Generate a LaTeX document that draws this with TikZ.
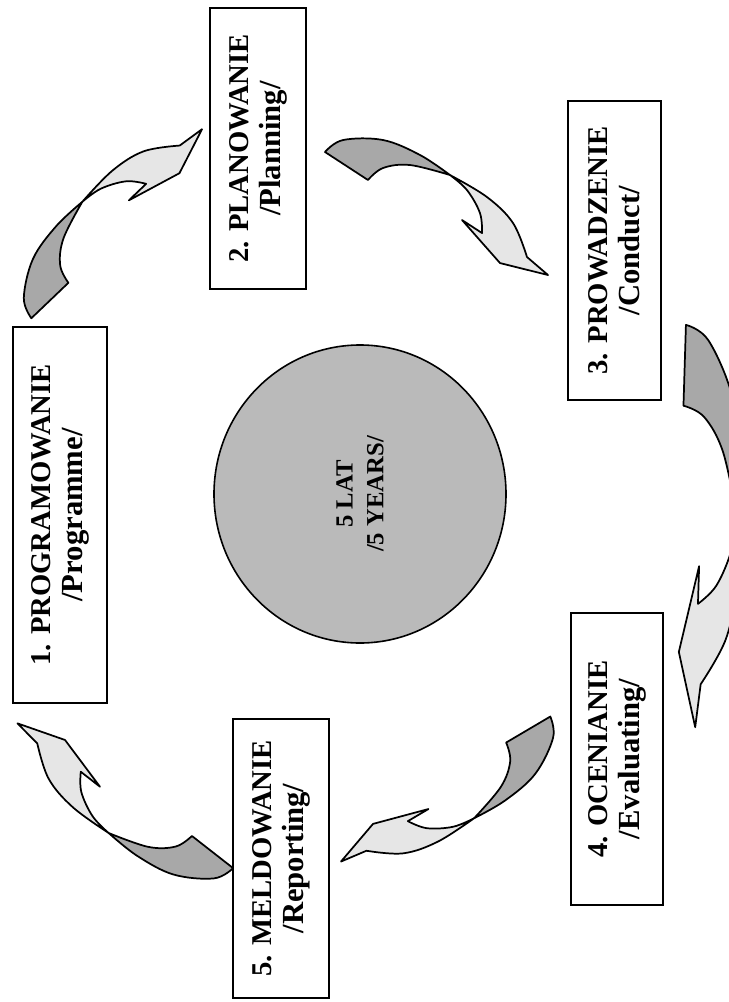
\documentclass[tikz,border=0pt]{standalone}
\usepackage{fontspec}
\setmainfont{Liberation Serif}
\usetikzlibrary{shapes.geometric,positioning}
\definecolor{tailgray}{RGB}{168,168,168}
\definecolor{headgray}{RGB}{230,230,230}
\definecolor{hubgray}{RGB}{186,186,186}

% curved twisted block arrow, tail at origin, pointing along +x
\tikzset{
  pics/cyclearrow/.style={code={
    \filldraw[fill=tailgray, draw=black, line width=1.3pt, line join=round]
      plot[smooth, tension=0.6] coordinates {(-26,-1.8) (-15.9,-20.9) (19.2,-40) (58.9,-44.5) (94.8,-41.2)}
      -- plot[smooth, tension=0.6] coordinates {(94.8,-41.2) (54.9,-30.9) (32.6,-15.4) (25.1,2.3)} -- cycle;
    \filldraw[fill=headgray, draw=black, line width=1.3pt, line join=round]
      plot[smooth, tension=0.6] coordinates {(94.8,-41.2) (137.9,-39.5) (173.1,-29.1) (201.6,-5.9)}
      -- (228.7,-0.1) -- (180.8,12.3) -- (126.9,-7.4)
      -- plot[smooth, tension=0.6] coordinates {(150.7,-5.5) (139.3,-22.1) (116.9,-36.1) (94.8,-41.2)} -- cycle;
  }}
}
\newcommand{\subline}[1]{{\fontsize{23}{24}\selectfont #1}}

\begin{document}
\begin{tikzpicture}[
    x=0.75pt, y=-0.75pt,
    stagebox/.style={rectangle, draw=black, line width=1.4pt, fill=white, rotate=90, inner sep=0pt, align=center, font=\fontsize{21.5}{24}\selectfont\bfseries},
    hub/.style={ellipse, draw=black, line width=1.2pt, fill=hubgray, rotate=90, inner sep=0pt, minimum width=223.5pt, minimum height=219pt, align=center, font=\fontsize{18.5}{23}\selectfont\bfseries}
]
\useasboundingbox[fill=white] (0,0) rectangle (728,1002);

\node[stagebox, minimum width=282pt, minimum height=70.5pt] (prog) at (60,515) {1. PROGRAMOWANIE\\\subline{/Programme/}};
\node[stagebox, minimum width=210.75pt, minimum height=72pt] (plan) at (258,148.5) {2. PLANOWANIE\\\subline{/Planning/}};
\node[stagebox, minimum width=224.25pt, minimum height=69.75pt] (cond) at (614.5,250.5) {3. PROWADZENIE\\\subline{/Conduct/}};
\node[stagebox, minimum width=219pt, minimum height=69pt] (eval) at (617,759) {4. OCENIANIE\\\subline{/Evaluating/}};
\node[stagebox, minimum width=209.25pt, minimum height=72pt] (report) at (281,858.5) {5. MELDOWANIE\\\subline{/Reporting/}};

\node[hub] (years) at (360,494) {5 LAT\\/5 YEARS/};

\pic[rotate=48.3] at (50,300) {cyclearrow};
\pic[rotate=-28.5] at (347,166) {cyclearrow};
\pic[rotate=-88.4, xscale=1.58, yscale=1.15] at (685,366) {cyclearrow};
\pic[rotate=-144.9] at (528,730) {cyclearrow};
\pic[rotate=146.5, xscale=1.02] at (212,852) {cyclearrow};
\end{tikzpicture}
\end{document}
